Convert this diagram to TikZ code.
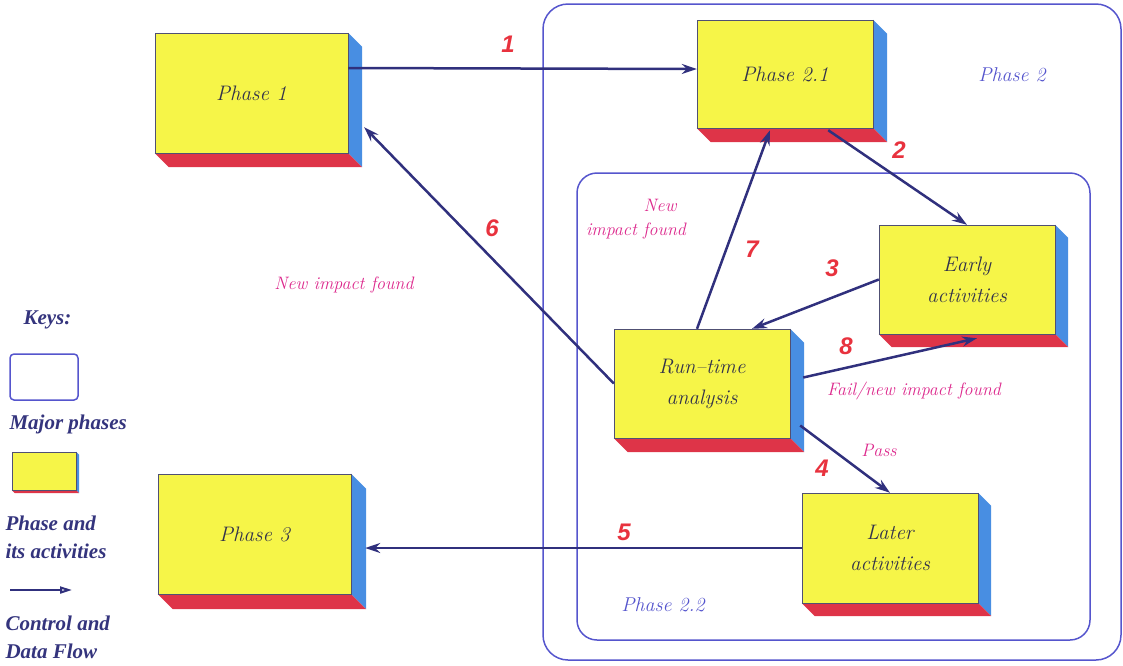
\documentclass[tikz,border=0pt]{standalone}
\usepackage{fontspec}
\newfontfamily\numfont{Liberation Sans}
\newfontfamily\keyfont{Liberation Serif}
\usetikzlibrary{arrows.meta}

\definecolor{slabyellow}{RGB}{246,245,72}
\definecolor{slabside}{RGB}{72,142,226}
\definecolor{slabbase}{RGB}{222,52,72}
\definecolor{boxline}{RGB}{80,80,115}
\definecolor{boxtext}{RGB}{50,50,75}
\definecolor{flowblue}{RGB}{48,48,125}
\definecolor{frameblue}{RGB}{85,85,205}
\definecolor{notepink}{RGB}{220,40,140}
\definecolor{numred}{RGB}{232,50,62}
\definecolor{keyblue}{RGB}{52,52,125}

\tikzset{
  phasebox/.style={draw=boxline, fill=slabyellow, inner sep=0pt, align=center,
    text=boxtext, font=\fontsize{21}{31}\selectfont\itshape},
  flow/.style={draw=flowblue, line width=2.5pt, -{Stealth[length=15pt,width=10pt,inset=5pt]}},
  num/.style={text=numred, font=\numfont\bfseries\itshape\fontsize{24}{24}\selectfont},
  note/.style={text=notepink, font=\itshape\fontsize{18}{24}\selectfont, align=center},
  frame/.style={draw=frameblue, line width=1.5pt},
  framelabel/.style={text=frameblue, font=\itshape\fontsize{20}{24}\selectfont},
  keytext/.style={text=keyblue, font=\keyfont\bfseries\itshape\fontsize{21}{28}\selectfont, align=left, anchor=west}
}

% blue side and red base of a yellow box
\newcommand\slabfaces[2]{%
  \fill[slabside] (#1.north east) -- ++(#2,#2) -- ([shift={(#2,#2)}]#1.south east) -- (#1.south east) -- cycle;
  \fill[slabbase] (#1.south west) -- (#1.south east) -- ++(#2,#2) -- ([shift={(#2,#2)}]#1.south west) -- cycle;
  \draw[boxline] (#1.north west) rectangle (#1.south east);}

\begin{document}
\begin{tikzpicture}[x=1pt, y=-1pt]
  \useasboundingbox (0,0) rectangle (1123,665);

  % major phases
  \draw[frame, rounded corners=25pt] (543,4) rectangle (1121,660);
  \draw[frame, rounded corners=20pt] (577,173) rectangle (1090,640);
  \node[framelabel] (ph2) at (1012,75) {Phase 2};
  \node[framelabel] (ph22) at (663,605) {Phase 2.2};

  % phases and activities
  \node[phasebox, minimum width=193pt, minimum height=120pt] (p1) at (251.5,93) {Phase 1};
  \node[phasebox, minimum width=176pt, minimum height=108pt] (p21) at (785,74) {Phase 2.1};
  \node[phasebox, minimum width=176pt, minimum height=109pt] (early) at (967,279.5) {Early\\activities};
  \node[phasebox, minimum width=176pt, minimum height=109pt] (rt) at (702,383.5) {Run--time\\analysis};
  \node[phasebox, minimum width=176pt, minimum height=110pt] (later) at (890,548) {Later\\activities};
  \node[phasebox, minimum width=193pt, minimum height=120pt] (p3) at (254.5,534) {Phase 3};
  \slabfaces{p1}{14}
  \slabfaces{p21}{14}
  \slabfaces{early}{13}
  \slabfaces{rt}{14}
  \slabfaces{later}{13}
  \slabfaces{p3}{15}

  % flows
  \draw[flow] ([shift={(0,-25)}]p1.east) -- ([shift={(0,-5)}]p21.west);
  \draw[flow] ([shift={(-45,2)}]p21.south east) -- (early.north);
  \draw[flow] (early.west) -- ([xshift=50pt]rt.north);
  \draw[flow] ([shift={(10,42)}]rt.east) -- (later.north);
  \draw[flow] (later.west) -- ([shift={(14,14)}]p3.east);
  \draw[flow] (rt.west) -- ([shift={(16,-26)}]p1.south east);
  \draw[flow] ([xshift=-5pt]rt.north) -- ([shift={(-15,2)}]p21.south);
  \draw[flow] ([shift={(13,-6)}]rt.east) -- ([shift={(10,4)}]early.south);

  % numbers
  \node[num] (n1) at (508,44) {1};
  \node[num] (n2) at (899,150) {2};
  \node[num] (n3) at (832,268) {3};
  \node[num] (n4) at (822,468) {4};
  \node[num] (n5) at (624,532) {5};
  \node[num] (n6) at (492,228) {6};
  \node[num] (n7) at (752,249) {7};
  \node[num] (n8) at (846,346) {8};

  % notes
  \node[note] (nif1) at (344,285) {New impact found};
  \node[note] (nif2) at (636,219) {\hspace*{48pt}New\\impact found};
  \node[note] (fail) at (914,391) {Fail/new impact found};
  \node[note] (pass) at (879,450) {Pass};

  % keys
  \node[keytext] (keys) at (20,320) {Keys:};
  \draw[frame, rounded corners=4pt] (10,354) rectangle (78,400);
  \node[keytext] (kmajor) at (6,424) {Major phases};
  \node[phasebox, minimum width=64pt, minimum height=38pt] (kbox) at (44,471) {};
  \slabfaces{kbox}{3}
  \node[keytext] (kphase) at (2,537) {Phase and\\its activities};
  \coordinate (ka) at (10,590);
  \coordinate (kb) at (72,590);
  \draw[draw=flowblue, line width=2pt, -{Triangle[open, length=12pt, width=7pt]}] (ka) -- (kb);
  \node[keytext] (kflow) at (2,637) {Control and\\Data Flow};
\end{tikzpicture}
\end{document}
